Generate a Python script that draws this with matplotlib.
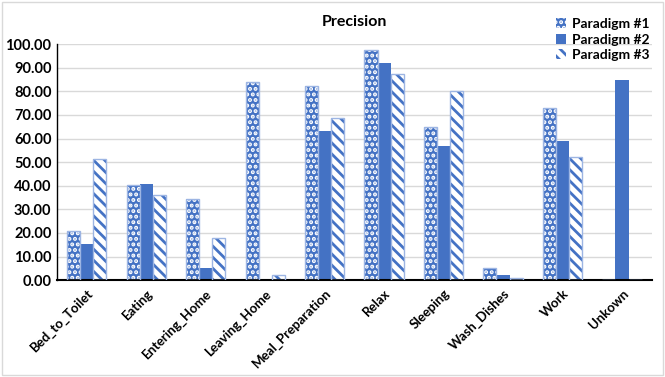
import matplotlib
matplotlib.use("Agg")
import matplotlib.pyplot as plt
import numpy as np
from matplotlib.patches import Rectangle, Patch

categories = ["Bed_to_Toilet", "Eating", "Entering_Home", "Leaving_Home", "Meal_Preparation",
              "Relax", "Sleeping", "Wash_Dishes", "Work", "Unkown"]
paradigm1 = [21.0, 40.2, 34.3, 84.0, 82.3, 97.3, 64.8, 5.2, 72.8, 0.0]
paradigm2 = [15.5, 40.8, 5.0, 0.0, 63.3, 92.0, 56.7, 2.0, 59.0, 85.0]
paradigm3 = [51.5, 36.0, 18.0, 2.0, 68.5, 87.5, 80.0, 0.7, 52.3, 0.0]
series_names = ["Paradigm #1", "Paradigm #2", "Paradigm #3"]
yticks = [0, 10, 20, 30, 40, 50, 60, 70, 80, 90, 100]

BLUE = "#4472C4"
LIGHT = "#9DB5E3"

plt.rcParams["font.family"] = ["Lato", "DejaVu Sans"]
plt.rcParams["hatch.linewidth"] = 2.0

fig = plt.figure(figsize=(6.65, 3.77), dpi=100)
ax = fig.add_axes([0.0857, 0.257, 0.8943, 0.626])

x = np.arange(len(categories))
w = 0.22

# Paradigm #1: blue fill with white speckle pattern
ax.bar(x - w, paradigm1, w, color=BLUE, edgecolor="white", hatch="...", linewidth=0, zorder=2)
ax.bar(x - w, paradigm1, w, facecolor="none", edgecolor=LIGHT, linewidth=1.0, zorder=3)
# Paradigm #2: solid
ax.bar(x, paradigm2, w, color=BLUE, linewidth=0, zorder=2)
# Paradigm #3: white with diagonal blue stripes
ax.bar(x + w, paradigm3, w, color="white", edgecolor=BLUE, hatch="\\\\\\", linewidth=0, zorder=2)
ax.bar(x + w, paradigm3, w, facecolor="none", edgecolor=LIGHT, linewidth=1.0, zorder=3)

ax.set_xlim(-0.5, len(categories) - 0.5)
ax.set_ylim(0, 100)
ax.set_yticks(yticks)
ax.set_yticklabels([f"{v:.2f}" for v in yticks], fontsize=10.5, fontweight="bold")
ax.set_xticks(x)
ax.set_xticklabels(categories, rotation=45, ha="right", rotation_mode="anchor",
                   fontsize=9.5, fontweight="bold")
ax.tick_params(axis="both", length=0, pad=4)
ax.tick_params(axis="x", pad=5)
ax.yaxis.grid(True, color="#D9D9D9", linewidth=1.0, zorder=0)
ax.set_axisbelow(True)
for s in ["top", "right"]:
    ax.spines[s].set_visible(False)
ax.spines["left"].set_color("black")
ax.spines["left"].set_linewidth(1.0)
ax.spines["bottom"].set_color("black")
ax.spines["bottom"].set_linewidth(1.5)

ax.set_title("Precision", fontsize=11.5, fontweight="bold", pad=13)

handles = [
    Patch(facecolor=BLUE, edgecolor="white", hatch="...", linewidth=0),
    Patch(facecolor=BLUE, linewidth=0),
    Patch(facecolor="white", edgecolor=BLUE, hatch="\\\\\\", linewidth=0),
]
leg = fig.legend(handles, series_names, loc="upper right", bbox_to_anchor=(0.995, 0.985),
                 frameon=False, prop={"weight": "bold", "size": 10},
                 handlelength=0.7, handleheight=0.7, handletextpad=0.4, labelspacing=0.25)

fig.patches.append(Rectangle((0.003, 0.004), 0.994, 0.99, transform=fig.transFigure,
                             fill=False, edgecolor="#D9D9D9", linewidth=1.0))

fig.savefig("out.png", dpi=100)
